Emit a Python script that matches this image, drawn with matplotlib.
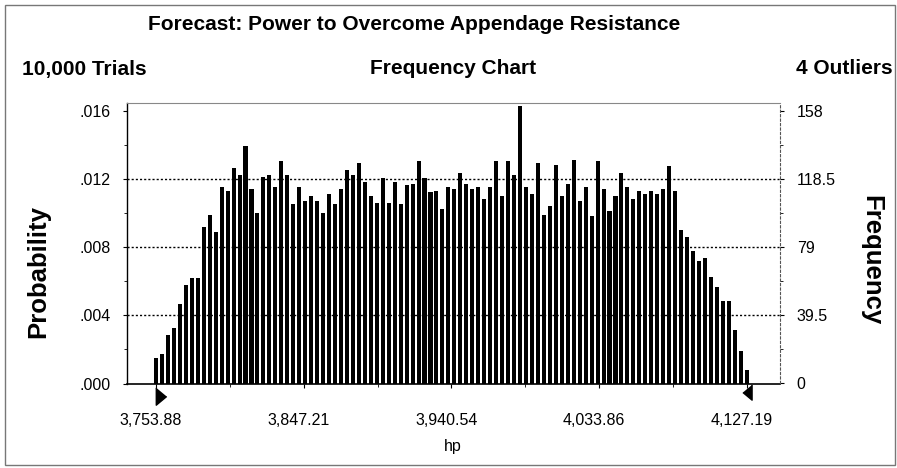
import numpy as np
import matplotlib
matplotlib.use("Agg")
import matplotlib.pyplot as plt
from matplotlib.patches import Rectangle
from matplotlib.transforms import ScaledTranslation

plt.rcParams['font.family'] = ['Liberation Sans', 'DejaVu Sans']

# forecast range and bin counts (10,000 trials, 100 bins)
low = 3753.88
high = 4127.19
counts = [15, 17, 28, 32, 46, 57, 61, 61, 91, 98,
          88, 114, 112, 125, 121, 138, 113, 99, 120, 121,
          114, 129, 121, 104, 114, 106, 109, 106, 99, 110,
          104, 113, 124, 121, 128, 117, 109, 105, 119, 105,
          117, 104, 115, 116, 129, 119, 111, 112, 101, 114,
          113, 122, 116, 113, 114, 107, 114, 129, 109, 129,
          121, 161, 114, 110, 128, 98, 103, 127, 109, 116,
          130, 106, 114, 97, 129, 113, 100, 109, 122, 114,
          107, 112, 110, 112, 110, 113, 126, 112, 89, 85,
          77, 71, 73, 62, 56, 48, 48, 31, 19, 8]
x_ticks = [3753.88, 3847.21, 3940.54, 4033.86, 4127.19]
x_labels = ["3,753.88", "3,847.21", "3,940.54", "4,033.86", "4,127.19"]
freq_ticks = [0, 39.5, 79, 118.5, 158]
prob_labels = [".000", ".004", ".008", ".012", ".016"]
freq_labels = ["0", "39.5", "79", "118.5", "158"]

W, H = 897, 468
fig = plt.figure(figsize=(W / 100, H / 100), dpi=100)
fig.patch.set_facecolor("white")
ax = fig.add_axes([127 / W, 1 - 383.5 / H, 653 / W, 280.5 / H])

centers = np.linspace(low, high, len(counts))
step = centers[1] - centers[0]
ax.bar(centers, counts, width=step * 0.68, color="black", zorder=2)

for g in freq_ticks[1:-1]:
    ax.axhline(g, color="black", lw=1, ls=(0, (1.5, 1.5)), zorder=1)

ax.set_xlim(3735.55, 4148.2)
ax.set_ylim(0, 162.8)

ax.set_xticks(x_ticks, x_labels)
ax.set_xticks([(a + b) / 2 for a, b in zip(x_ticks[:-1], x_ticks[1:])], minor=True)
ax.tick_params(axis="x", which="major", direction="out", length=3, pad=18, labelsize=11.5)
ax.tick_params(axis="x", which="minor", direction="out", length=2)
shift = ScaledTranslation(-5 / 100, 0, fig.dpi_scale_trans)
for lab in ax.get_xticklabels():
    lab.set_transform(lab.get_transform() + shift)

ax.set_yticks(freq_ticks, prob_labels)
ax.set_yticks([(a + b) / 2 for a, b in zip(freq_ticks[:-1], freq_ticks[1:])], minor=True)
ax.tick_params(axis="y", which="major", direction="out", length=3, pad=9, labelsize=11.5)
ax.tick_params(axis="y", which="minor", direction="out", length=2)

ax2 = ax.twinx()
ax2.set_ylim(ax.get_ylim())
ax2.set_yticks(freq_ticks, freq_labels)
ax2.set_yticks([(a + b) / 2 for a, b in zip(freq_ticks[:-1], freq_ticks[1:])], minor=True)
ax2.tick_params(axis="y", which="major", direction="out", length=3, pad=9, labelsize=11.5)
ax2.tick_params(axis="y", which="minor", direction="out", length=2)

for a in (ax, ax2):
    for side in ("top", "right", "left", "bottom"):
        a.spines[side].set_visible(False)
ax.spines["left"].set_visible(True)
ax.spines["left"].set_linewidth(1)
ax.spines["bottom"].set_visible(True)
ax.spines["bottom"].set_linewidth(1.2)
ax.spines["top"].set_visible(True)
ax.spines["top"].set_color("#888888")
ax2.spines["right"].set_visible(True)
ax2.spines["right"].set_color("#555555")
ax2.spines["right"].set_linestyle((0, (2, 2)))

# certainty grabbers under the axis
right_tri = [(-0.6, 1), (-0.6, -1), (0.6, 0)]
left_tri = [(0.6, 1), (0.6, -1), (-0.6, 0)]
ax.plot([low + 5 / 1.5823], [-0.046], marker=right_tri, ms=12.5, color="black",
        transform=ax.get_xaxis_transform(), clip_on=False)
ax.plot([high + 0.5 / 1.5823], [-0.031], marker=left_tri, ms=11, color="black",
        transform=ax.get_xaxis_transform(), clip_on=False)

fig.text(414 / W, 1 - 25 / H, "Forecast: Power to Overcome Appendage Resistance",
         ha="center", va="center", fontsize=15, fontweight="bold")
fig.text(22 / W, 1 - 69 / H, "10,000 Trials", ha="left", va="center",
         fontsize=15, fontweight="bold")
fig.text(453 / W, 1 - 69 / H, "Frequency Chart", ha="center", va="center",
         fontsize=15, fontweight="bold")
fig.text(893 / W, 1 - 69 / H, "4 Outliers", ha="right", va="center",
         fontsize=15, fontweight="bold")
fig.text(38 / W, 1 - 272 / H, "Probability", rotation=90, ha="center", va="center",
         fontsize=18.5, fontweight="bold")
fig.text(871 / W, 1 - 260 / H, "Frequency", rotation=270, ha="center", va="center",
         fontsize=18.5, fontweight="bold")
fig.text(453 / W, 1 - 447 / H, "hp", ha="center", va="center", fontsize=11.5)

fig.patches.append(Rectangle((5 / W, 3 / H), 890 / W, 460 / H, transform=fig.transFigure,
                             fill=False, edgecolor="#777777", lw=1))

fig.savefig("out.png", dpi=100)
